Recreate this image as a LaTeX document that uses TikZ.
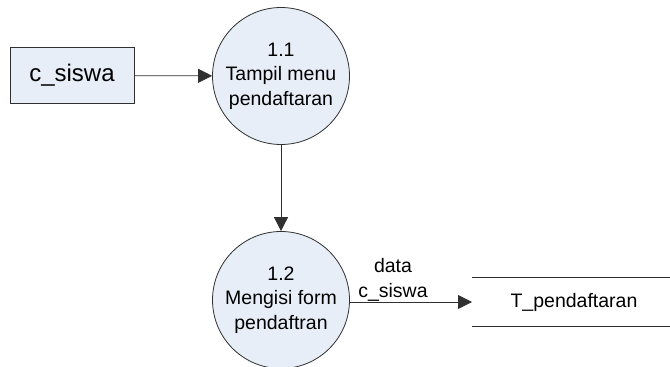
\documentclass[tikz,border=0pt]{standalone}
\usepackage{fontspec}
\setmainfont{Liberation Sans}
\usetikzlibrary{arrows.meta}
\definecolor{procfill}{HTML}{E8EEF7}
\definecolor{linecol}{HTML}{303030}
\begin{document}
\begin{tikzpicture}[x=1pt,y=-1pt,
  proc/.style={circle, draw=linecol, line width=0.8pt, fill=procfill, minimum size=137pt, inner sep=0pt, align=center, font=\fontsize{19.5}{24.5}\selectfont},
  ext/.style={rectangle, draw=linecol, line width=0.8pt, fill=procfill, minimum width=124pt, minimum height=56pt, inner sep=0pt, font=\fontsize{24}{28}\selectfont},
  flow/.style={-{Triangle[length=14pt,width=14pt]}, draw=linecol, line width=0.8pt},
  lbl/.style={align=center, inner sep=0pt, font=\fontsize{19.5}{25}\selectfont}]
\useasboundingbox (0,0) rectangle (670,367);
\node[ext] (ext) at (72,75.5) {c\_siswa};
\node[proc] (p11) at (281,76) {1.1\\Tampil menu\\pendaftaran};
\node[proc] (p12) at (281,300) {1.2\\Mengisi form\\pendaftran};
\coordinate (dsin) at (472,302);
\coordinate (dsTL) at (472,277);
\coordinate (dsTR) at (670,277);
\coordinate (dsBL) at (472,326);
\coordinate (dsBR) at (670,326);
\node[lbl] (T) at (574,302.5) {T\_pendaftaran};
\draw[linecol, line width=0.8pt] (dsTL) -- (dsTR) (dsBL) -- (dsBR);
\draw[flow] (ext) -- (p11);
\draw[flow] (p11) -- (p12);
\draw[flow] (p12.east |- dsin) -- (dsin);
\node[lbl] (lab) at (393,279.5) {data\\c\_siswa};
\end{tikzpicture}
\end{document}
